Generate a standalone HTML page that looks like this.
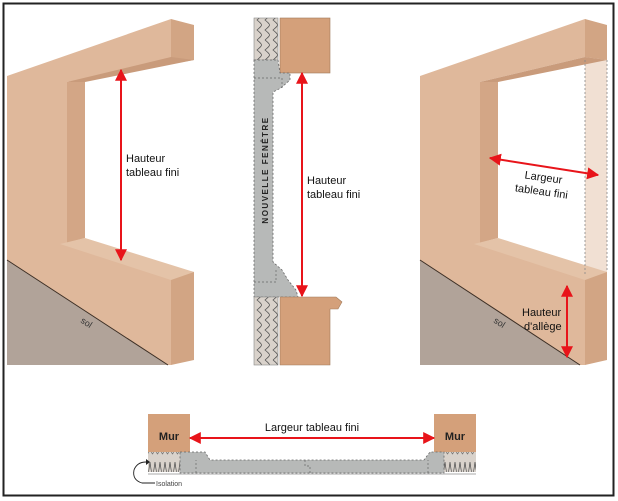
<!DOCTYPE html>
<html><head><meta charset="utf-8"><style>
html,body{margin:0;padding:0;background:#fff}
svg{display:block}
text{font-family:"Liberation Sans",sans-serif}
</style></head><body>
<svg width="618" height="501" viewBox="0 0 618 501" xmlns="http://www.w3.org/2000/svg">
<defs>
<marker id="ah" viewBox="0 0 10 10" refX="9" refY="5" markerWidth="6" markerHeight="6" orient="auto-start-reverse"><path d="M0,0 L10,5 L0,10z" fill="#e8141a"/></marker>
<pattern id="ins" width="8" height="40" patternUnits="userSpaceOnUse"><rect width="8" height="40" fill="#d9d2cb"/><path d="M1,0 C7,5 7,5 1,10 C7,15 7,15 1,20 C7,25 7,25 1,30 C7,35 7,35 1,40" fill="none" stroke="#555" stroke-width="0.8"/></pattern>
<pattern id="insh" width="10" height="20" patternUnits="userSpaceOnUse"><rect width="10" height="20" fill="#d9d2cb"/><path d="M0,2 C2,18 3,18 5,2 C7,18 8,18 10,2" fill="none" stroke="#555" stroke-width="0.8"/></pattern>
</defs>
<rect x="3.5" y="3.5" width="610" height="492" fill="#fff" stroke="#222" stroke-width="2"/>

<!-- LEFT FIGURE -->
<polygon points="7,76 171,19 171,365 7,365" fill="#dfb89b"/>
<polygon points="171,19 194,25 194,360 171,365" fill="#d2a584"/>
<polygon points="67,82 194,60 194,272 67,242" fill="#fff"/>
<polygon points="67,82 171,57 194,60 85,82" fill="#c99b7b"/>
<polygon points="67,82 85,82 85,238 67,243" fill="#d3a686"/>
<polygon points="60,244 85,238 194,272 171,280" fill="#e4c3a8"/>
<polygon points="7,260 168,365 7,365" fill="#b1a399"/>
<line x1="7" y1="260" x2="168" y2="365" stroke="#3d2f25" stroke-width="1"/>
<text x="80" y="322" font-size="9" fill="#333" transform="rotate(33 80 322)">sol</text>
<line x1="121" y1="70" x2="121" y2="260" stroke="#e8141a" stroke-width="2" marker-start="url(#ah)" marker-end="url(#ah)"/>
<text x="126" y="162" font-size="11" fill="#111">Hauteur</text>
<text x="126" y="176" font-size="11" fill="#111">tableau fini</text>

<!-- MIDDLE FIGURE -->
<rect x="254" y="18" width="24" height="42" fill="url(#ins)" stroke="#888" stroke-width="0.6"/>
<rect x="280" y="18" width="50" height="55" fill="#d4a07a" stroke="#a07a5a" stroke-width="0.6"/>
<path d="M254,60 L278,60 L280,73 L290,73 L290,80 L281,88 L273,92 L273,262 L282,270 L288,280 L296,290 L298,297 L254,297 Z" fill="#b7b9b8" stroke="#666" stroke-width="0.8" stroke-dasharray="2,2"/>
<path d="M254,78 L282,78 L282,88 M254,282 L276,282 L276,270" fill="none" stroke="#666" stroke-width="0.7" stroke-dasharray="2,2"/>
<rect x="254" y="297" width="24" height="68" fill="url(#ins)" stroke="#888" stroke-width="0.6"/>
<path d="M280,297 L336,297 L342,302 L338,309 L330,309 L330,365 L280,365 Z" fill="#d4a07a" stroke="#a07a5a" stroke-width="0.6"/>
<text x="265" y="170" font-size="8" font-weight="bold" letter-spacing="1.5" fill="#222" text-anchor="middle" transform="rotate(-90 265 170)" dy="3">NOUVELLE FENÊTRE</text>
<line x1="302" y1="73" x2="302" y2="296" stroke="#e8141a" stroke-width="2" marker-start="url(#ah)" marker-end="url(#ah)"/>
<text x="307" y="184" font-size="11" fill="#111">Hauteur</text>
<text x="307" y="198" font-size="11" fill="#111">tableau fini</text>

<!-- RIGHT FIGURE -->
<polygon points="420,76 585,19 585,365 420,365" fill="#dfb89b"/>
<polygon points="585,19 607,25 607,360 585,365" fill="#d2a584"/>
<polygon points="480,82 585,57 585,270 480,242" fill="#fff"/>
<polygon points="585,57 607,60 607,272 585,270" fill="#f1e0d3"/>
<polygon points="480,82 585,57 607,60 498,82" fill="#c99b7b"/>
<polygon points="480,82 498,82 498,238 480,243" fill="#d3a686"/>
<polygon points="474,244 498,238 607,272 585,280" fill="#e4c3a8"/>
<line x1="585" y1="60" x2="585" y2="275" stroke="#888" stroke-width="0.8" stroke-dasharray="2,2"/>
<line x1="607" y1="60" x2="607" y2="272" stroke="#888" stroke-width="0.8" stroke-dasharray="2,2"/>
<polygon points="420,260 580,365 420,365" fill="#b1a399"/>
<line x1="420" y1="260" x2="580" y2="365" stroke="#3d2f25" stroke-width="1"/>
<text x="493" y="322" font-size="9" fill="#333" transform="rotate(33 493 322)">sol</text>
<line x1="490" y1="158" x2="598" y2="175" stroke="#e8141a" stroke-width="2" marker-start="url(#ah)" marker-end="url(#ah)"/>
<text x="543" y="181" font-size="11" fill="#111" text-anchor="middle" transform="rotate(8 543 181)">Largeur</text>
<text x="541" y="195" font-size="11" fill="#111" text-anchor="middle" transform="rotate(8 541 195)">tableau fini</text>
<line x1="567" y1="286" x2="567" y2="357" stroke="#e8141a" stroke-width="2" marker-start="url(#ah)" marker-end="url(#ah)"/>
<text x="522" y="316" font-size="11" fill="#111">Hauteur</text>
<text x="524" y="330" font-size="11" fill="#111">d'allège</text>

<!-- BOTTOM PLAN -->
<rect x="148" y="414" width="42" height="38" fill="#d4a07a"/>
<rect x="434" y="414" width="42" height="38" fill="#d4a07a"/>
<text x="169" y="440" font-size="11" font-weight="bold" fill="#222" text-anchor="middle">Mur</text>
<text x="455" y="440" font-size="11" font-weight="bold" fill="#222" text-anchor="middle">Mur</text>
<rect x="148" y="452" width="32" height="20" fill="url(#insh)"/>
<rect x="444" y="452" width="32" height="20" fill="url(#insh)"/>
<line x1="148" y1="474" x2="476" y2="474" stroke="#aaa" stroke-width="1"/>
<path d="M180,452 L205,452 L210,460 L424,460 L430,452 L444,452 L444,473 L180,473 Z" fill="#b7b9b8" stroke="#666" stroke-width="0.8" stroke-dasharray="2,2"/>
<path d="M196,473 L196,460 M428,473 L428,460 M305,460 L305,466 L310,466 L310,473" fill="none" stroke="#666" stroke-width="0.7" stroke-dasharray="2,2"/>
<line x1="190" y1="438" x2="434" y2="438" stroke="#e8141a" stroke-width="2" marker-start="url(#ah)" marker-end="url(#ah)"/>
<text x="312" y="431" font-size="11" fill="#111" text-anchor="middle">Largeur tableau fini</text>
<path d="M155,483 L142,483 Q132,480 134,470 Q137,462 146,462" fill="none" stroke="#222" stroke-width="0.9"/>
<path d="M146,459 L150,462 L146,465 Z" fill="#222"/>
<text x="156" y="486" font-size="7" fill="#444">Isolation</text>
</svg>
</body></html>
